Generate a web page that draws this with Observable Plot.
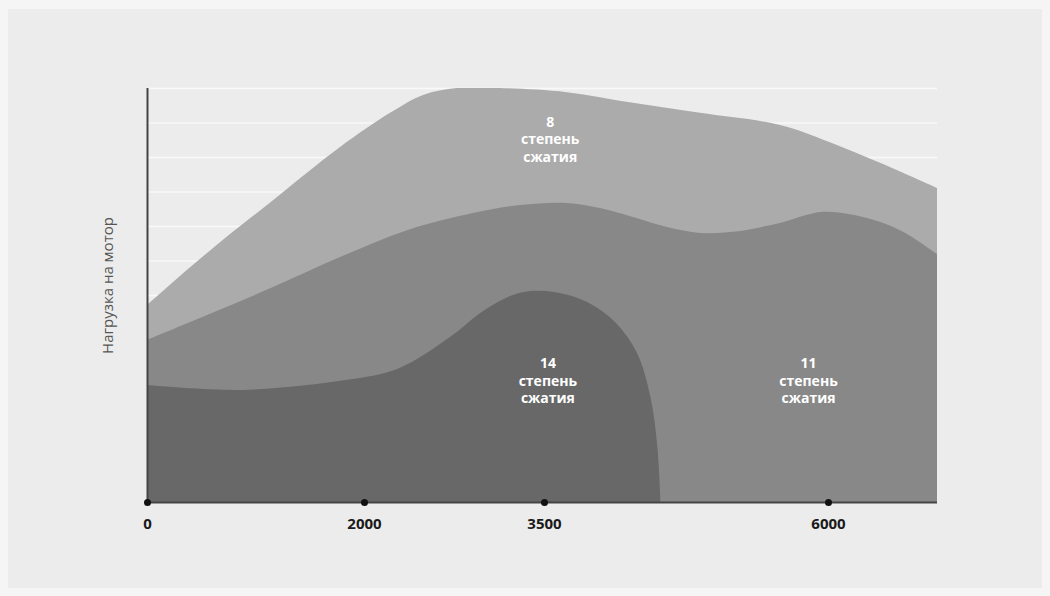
<!DOCTYPE html>
<html>
<head>
<meta charset="utf-8">
<script src="https://cdn.jsdelivr.net/npm/d3@7"></script>
<script src="https://cdn.jsdelivr.net/npm/@observablehq/plot@0.6"></script>
<style>
  html, body { margin: 0; padding: 0; background: #f5f5f5; }
  #frame { position: absolute; left: 8px; top: 9px; width: 1034px; height: 579px; background: #ececec; }
  #chart { position: absolute; left: 0; top: 0; }
  #chart svg { background: transparent; overflow: visible; }
</style>
</head>
<body>
<div id="frame"></div>
<div id="chart"></div>
<script>
// X ticks (rpm) and y grid levels
const xTicks = [0, 2000, 3500, 6000];
const yGrid = [10, 20, 30, 40, 50, 60, 70, 80, 90, 100, 110, 120];
const yLabel = "Нагрузка на мотор";

// Compression ratio 8 (top, lightest)
const rpm8  = [0, 553, 1161, 1779, 2217, 2492, 2775, 3133, 3702, 4283, 4873, 5577, 6018, 6477, 7000];
const load8 = [57.1, 72.2, 87.5, 102.9, 112.8, 118.0, 120, 120, 118.8, 115.7, 112.8, 109.3, 104.3, 98.3, 91.0];

// Compression ratio 11 (middle)
const rpm11  = [0, 553, 1161, 1779, 2358, 2908, 3300, 3702, 3993, 4283, 4583, 4873, 5164, 5577, 5956, 6321, 6661, 7000];
const load11 = [47.0, 54.2, 62.3, 71.0, 78.8, 83.8, 86.1, 86.7, 85.2, 82.6, 79.7, 78.0, 78.3, 80.9, 84.1, 82.6, 78.8, 71.9];

// Compression ratio 14 (bottom, darkest)
const rpm14  = [0, 885, 1843, 2292, 2717, 3008, 3292, 3588, 3896, 4134, 4319, 4437, 4498, 4525];
const load14 = [33.9, 32.5, 35.4, 38.8, 47.8, 55.7, 60.6, 60.9, 57.7, 51.9, 43.2, 30.4, 15.9, 0];

// Area labels
const labelText = ["8\nстепень\nсжатия", "14\nстепень\nсжатия", "11\nстепень\nсжатия"];
const labelRpm  = [3550, 3530, 5824];
const labelLoad = [105.5, 35.4, 35.4];

const toRows = (xs, ys) => xs.map((x, i) => ({x, y: ys[i]}));
const s8 = toRows(rpm8, load8);
const s11 = toRows(rpm11, load11);
const s14 = toRows(rpm14, load14);
const labels = labelText.map((t, i) => ({text: t, x: labelRpm[i], y: labelLoad[i]}));

const chart = Plot.plot({
  width: 1050,
  height: 596,
  marginLeft: 147,
  marginRight: 113,
  marginTop: 88,
  marginBottom: 94,
  style: {background: "transparent"},
  x: {type: "linear", domain: [0, 2000, 3500, 6000, 7000], range: [147, 364, 544, 828, 937], axis: null},
  y: {domain: [0, 120], range: [502, 88], axis: null},
  marks: [
    Plot.ruleY(yGrid, {x1: 0, x2: 7000, stroke: "#f9f9f9", strokeWidth: 1.5}),
    Plot.areaY(s8, {x: "x", y: "y", fill: "#ababab", curve: "catmull-rom", clip: true}),
    Plot.areaY(s11, {x: "x", y: "y", fill: "#888888", curve: "catmull-rom", clip: true}),
    Plot.areaY(s14, {x: "x", y: "y", fill: "#686868", curve: "catmull-rom", clip: true}),
    Plot.ruleX([0], {y1: 0, y2: 120, stroke: "#444", strokeWidth: 2}),
    Plot.ruleY([0], {x1: 0, x2: 7000, stroke: "#444", strokeWidth: 2}),
    Plot.dot(xTicks, {x: d => d, y: 0, r: 3.5, fill: "#111", stroke: "none"}),
    Plot.text(xTicks, {x: d => d, y: 0, dy: 22, text: d => String(d), fontSize: 15, fontWeight: 700, fill: "#1a1a1a", fontFamily: "Open Sans"}),
    Plot.text(labels, {x: "x", y: "y", text: "text", fill: "#ffffff", fontSize: 14, fontWeight: 700, lineHeight: 1.25, fontFamily: "Open Sans"}),
    Plot.text([yLabel], {frameAnchor: "left", textAnchor: "middle", dx: -39, dy: -10, rotate: -90, text: d => d, fontSize: 15, fill: "#555", fontFamily: "Open Sans"})
  ]
});
document.getElementById("chart").appendChild(chart);
</script>
</body>
</html>
